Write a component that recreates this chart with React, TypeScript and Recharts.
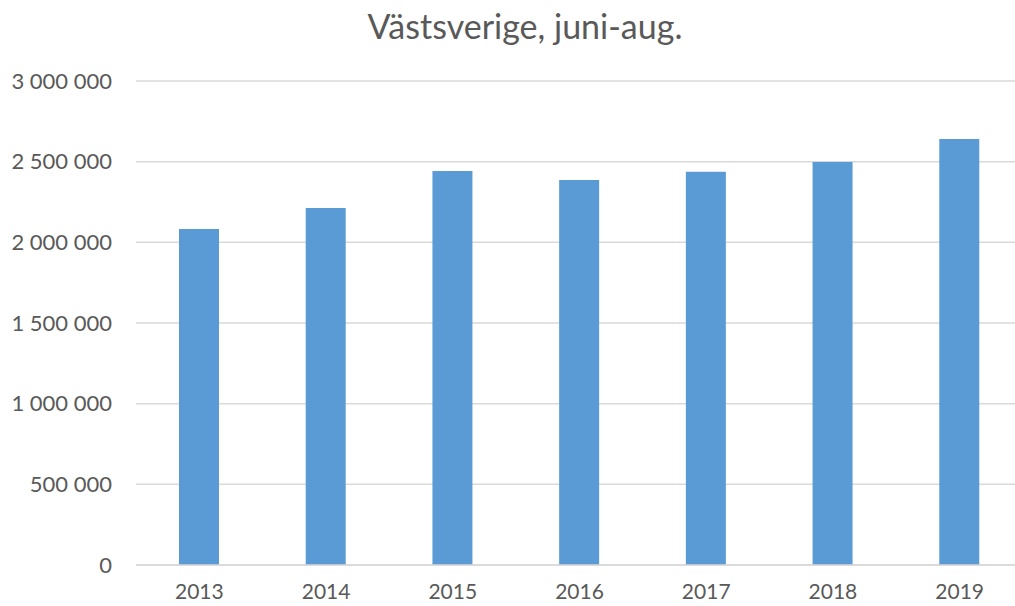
import React from 'react';
import { BarChart, Bar, XAxis, YAxis, CartesianGrid } from 'recharts';

// Values
const years = ['2013', '2014', '2015', '2016', '2017', '2018', '2019'];
const guests = [2083000, 2213000, 2442000, 2386000, 2438000, 2498000, 2640000];
const yTicks = [0, 500000, 1000000, 1500000, 2000000, 2500000, 3000000];

const data = years.map((year, i) => ({ year, value: guests[i] }));

// "3 000 000" style thousands separator
const formatNumber = (v: number): string =>
  String(v).replace(/\B(?=(\d{3})+(?!\d))/g, ' ');

const textColor = '#595959';
const gridColor = '#D9D9D9';

export default function App() {
  return (
    <div
      style={{
        position: 'absolute',
        top: 0,
        left: 0,
        width: 1015,
        height: 606,
        overflow: 'hidden',
        background: '#fff',
        fontFamily: 'Lato, sans-serif',
      }}
    >
      <div
        style={{
          position: 'absolute',
          top: 4,
          left: 0,
          width: 1050,
          textAlign: 'center',
          fontSize: 34,
          lineHeight: '44px',
          color: textColor,
        }}
      >
        Västsverige, juni-aug.
      </div>
      <BarChart
        width={1030}
        height={606}
        data={data}
        margin={{ top: 81, right: 7, left: 0, bottom: 0 }}
        barSize={40}
      >
        <CartesianGrid vertical={false} stroke={gridColor} strokeWidth={1.5} />
        <XAxis
          dataKey="year"
          height={41}
          axisLine={{ stroke: gridColor, strokeWidth: 1.5 }}
          tickLine={false}
          tickSize={0}
          tickMargin={19}
          tick={{ fill: textColor, fontSize: 21, fontFamily: 'Lato, sans-serif' }}
        />
        <YAxis
          width={136}
          domain={[0, 3000000]}
          ticks={yTicks}
          interval={0}
          axisLine={false}
          tickLine={false}
          tickSize={0}
          tickMargin={24}
          tickFormatter={formatNumber}
          tick={{ fill: textColor, fontSize: 22, fontFamily: 'Lato, sans-serif' }}
        />
        <Bar dataKey="value" fill="#5B9BD5" isAnimationActive={false} />
      </BarChart>
    </div>
  );
}
